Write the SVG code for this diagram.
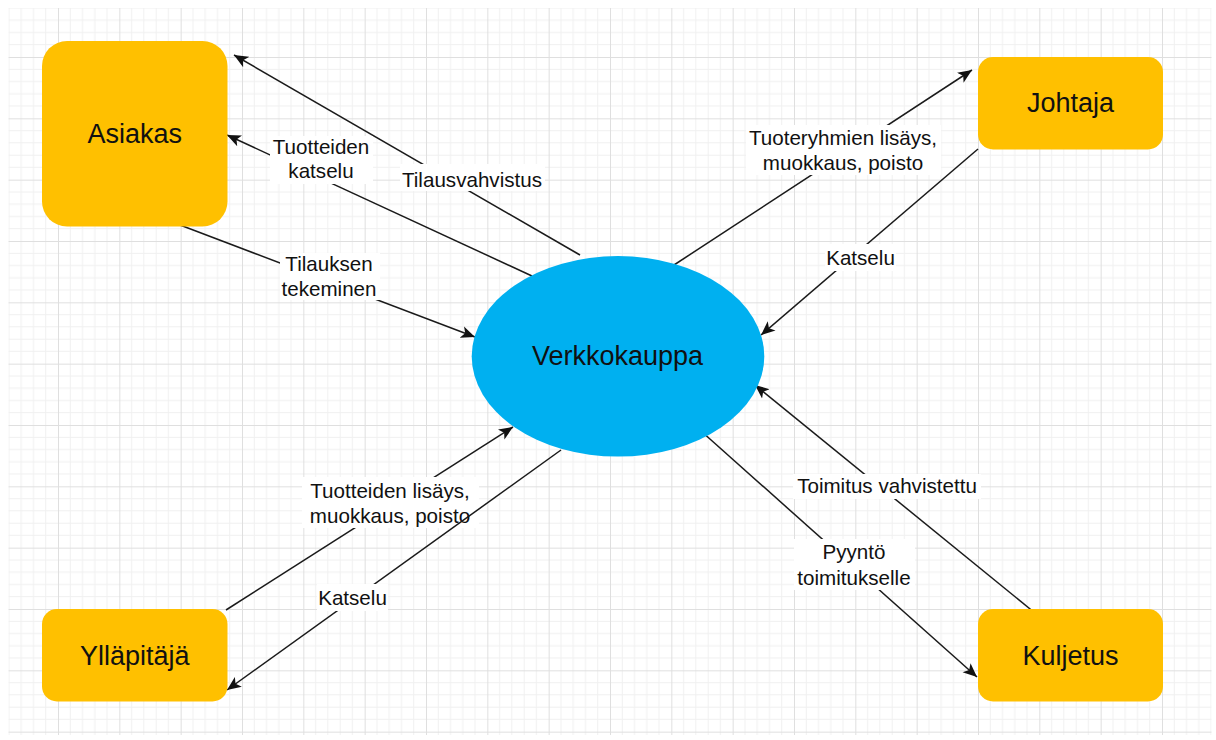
<svg xmlns="http://www.w3.org/2000/svg" width="1216" height="740" viewBox="0 0 1216 740">
<defs>
<pattern id="grid" patternUnits="userSpaceOnUse" x="-3.333" y="-4.333" width="61.333" height="61.333">
<path d="M12.267 0V61.333M24.533 0V61.333M36.8 0V61.333M49.067 0V61.333M0 12.267H61.333M0 24.533H61.333M0 36.8H61.333M0 49.067H61.333" stroke="#f0f0f0" stroke-width="1" fill="none"/>
<path d="M0.5 0V61.333M0 0.5H61.333" stroke="#dfdfdf" stroke-width="1" fill="none"/>
</pattern>
<marker id="arrow" markerUnits="userSpaceOnUse" markerWidth="15" markerHeight="13" viewBox="0 0 15 13" refX="14" refY="6.5" orient="auto">
<path d="M0 0.5 L14 6.5 L0 12.5 L3.5 6.5 Z" fill="#111"/>
</marker>
<style>
.node { fill: #FFC000; }
.ntext { font-family: "Liberation Sans", Arial, Helvetica, sans-serif; font-size: 27px; fill: #111; text-anchor: middle; }
.edge { stroke: #1a1a1a; stroke-width: 1.5; fill: none; marker-end: url(#arrow); }
.lbg { fill: #ffffff; }
.ltext { font-family: "Liberation Sans", Arial, Helvetica, sans-serif; font-size: 20.6px; fill: #111; text-anchor: middle; }
</style>
</defs>
<rect x="0" y="0" width="1216" height="740" fill="#ffffff"/>
<rect x="8.5" y="8" width="1203" height="727" fill="url(#grid)"/>

<g id="connectors">
<g id="e-tilausvahvistus">
<line class="edge" x1="580" y1="255" x2="234" y2="55"/>
<rect class="lbg" x="400" y="164" width="145" height="27"/>
<text class="ltext" x="472" y="186.5">Tilausvahvistus</text>
</g>
<g id="e-tuotteiden-katselu">
<line class="edge" x1="532" y1="276" x2="227" y2="135"/>
<rect class="lbg" x="270" y="136" width="103" height="48"/>
<text class="ltext" x="321" y="154.3">Tuotteiden</text>
<text class="ltext" x="321" y="178.3">katselu</text>
</g>
<g id="e-tilauksen-tekeminen">
<line class="edge" x1="180" y1="225" x2="475" y2="337"/>
<rect class="lbg" x="280" y="253" width="100" height="47"/>
<text class="ltext" x="329" y="270.7">Tilauksen</text>
<text class="ltext" x="329" y="295.7">tekeminen</text>
</g>
<g id="e-tuoteryhmien">
<line class="edge" x1="674" y1="265" x2="972" y2="70"/>
<rect class="lbg" x="746" y="125" width="195" height="50"/>
<text class="ltext" x="843" y="145">Tuoteryhmien lisäys,</text>
<text class="ltext" x="843" y="169.5">muokkaus, poisto</text>
</g>
<g id="e-johtaja-katselu">
<line class="edge" x1="978" y1="149" x2="761" y2="335"/>
<rect class="lbg" x="825" y="244" width="71" height="27"/>
<text class="ltext" x="860.5" y="265">Katselu</text>
</g>
<g id="e-tuotteiden-lisays">
<line class="edge" x1="226" y1="610" x2="513" y2="427"/>
<rect class="lbg" x="302" y="477" width="177" height="51"/>
<text class="ltext" x="390" y="498.3">Tuotteiden lisäys,</text>
<text class="ltext" x="390" y="523.3">muokkaus, poisto</text>
</g>
<g id="e-yllapitaja-katselu">
<line class="edge" x1="561" y1="450" x2="227" y2="690"/>
<rect class="lbg" x="317" y="584" width="71" height="27"/>
<text class="ltext" x="352.5" y="605">Katselu</text>
</g>
<g id="e-pyynto">
<line class="edge" x1="701" y1="431" x2="977" y2="677"/>
<rect class="lbg" x="794" y="539" width="121" height="51"/>
<text class="ltext" x="854" y="559.3">Pyyntö</text>
<text class="ltext" x="854" y="585">toimitukselle</text>
</g>
<g id="e-toimitus-vahvistettu">
<line class="edge" x1="1035" y1="613" x2="755" y2="385"/>
<rect class="lbg" x="793" y="474" width="188" height="25"/>
<text class="ltext" x="887" y="493.3">Toimitus vahvistettu</text>
</g>
</g>

<g id="asiakas">
<rect class="node" x="42" y="41" width="185.5" height="185.5" rx="25" ry="25"/>
<text class="ntext" x="134.7" y="143">Asiakas</text>
</g>
<g id="johtaja">
<rect class="node" x="978" y="57" width="185" height="92.5" rx="15" ry="15"/>
<text class="ntext" x="1070.5" y="112">Johtaja</text>
</g>
<g id="yllapitaja">
<rect class="node" x="42" y="609" width="185.5" height="92.5" rx="15" ry="15"/>
<text class="ntext" x="134.7" y="664.5">Ylläpitäjä</text>
</g>
<g id="kuljetus">
<rect class="node" x="978" y="609" width="185" height="92.5" rx="15" ry="15"/>
<text class="ntext" x="1070.5" y="664.5">Kuljetus</text>
</g>
<g id="verkkokauppa">
<ellipse cx="618" cy="356.3" rx="146.3" ry="100.3" fill="#00B0F0"/>
<text class="ntext" x="617.5" y="365">Verkkokauppa</text>
</g>
</svg>
